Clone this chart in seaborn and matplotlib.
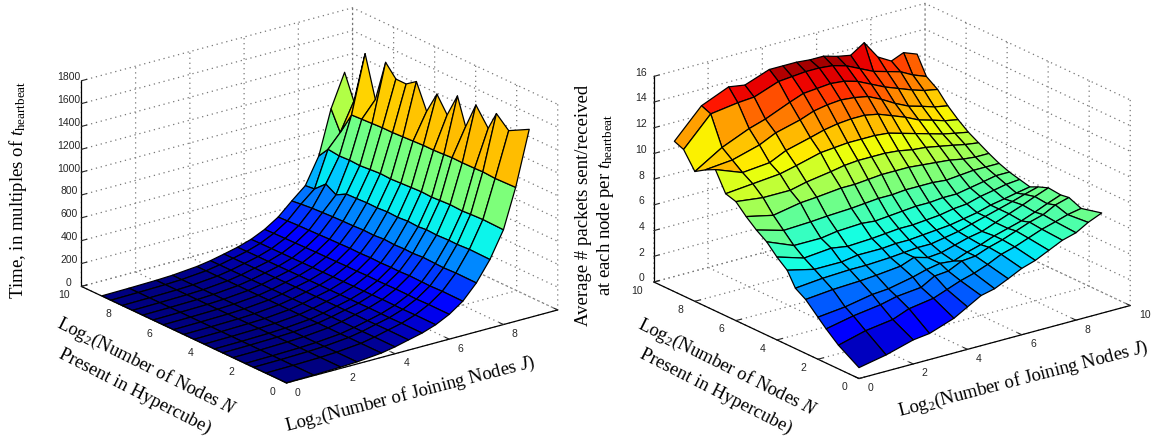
import numpy as np
import seaborn as sns
import matplotlib
matplotlib.use("Agg")
import matplotlib.pyplot as plt

# log2 of joining nodes / nodes present, same sampling in both plots
joining = [0, 1, 2, 2.6, 3.5, 4, 4.5, 5, 5.5, 6, 6.5, 7, 7.5, 8, 8.45, 8.95]
present = [0, 1, 1.6, 2, 2.6, 3.1, 3.5, 4, 4.5, 5, 5.5, 6, 6.5, 7, 7.5, 8, 8.55, 9]

# rows are present, columns are joining
join_time = [
    [2, 5, 11, 18, 38, 60, 89, 117, 158, 217, 300, 428, 601, 830, 1172, 1648],
    [2, 5, 11, 18, 38, 61, 90, 118, 159, 218, 302, 430, 605, 835, 1166, 1552],
    [2, 5, 11, 18, 38, 60, 89, 116, 157, 215, 298, 425, 598, 830, 1173, 1651],
    [2, 5, 11, 18, 37, 60, 88, 117, 158, 217, 300, 428, 600, 825, 1170, 1488],
    [2, 5, 11, 18, 38, 61, 90, 118, 159, 218, 303, 432, 595, 830, 1168, 1642],
    [2, 5, 11, 18, 38, 60, 88, 116, 157, 216, 298, 425, 600, 825, 1170, 1410],
    [2, 5, 11, 18, 37, 59, 88, 116, 156, 215, 300, 428, 592, 820, 1165, 1645],
    [2, 5, 11, 17, 37, 59, 87, 115, 156, 217, 297, 424, 598, 825, 1160, 1437],
    [2, 5, 11, 17, 37, 59, 87, 114, 155, 214, 300, 430, 590, 820, 1160, 1576],
    [2, 5, 10, 17, 37, 58, 86, 114, 154, 215, 296, 422, 595, 815, 1155, 1383],
    [2, 5, 10, 17, 37, 58, 86, 113, 153, 213, 298, 425, 588, 810, 1150, 1602],
    [2, 5, 10, 17, 36, 57, 85, 113, 152, 212, 295, 420, 590, 815, 1145, 1538],
    [2, 5, 10, 17, 36, 57, 84, 112, 151, 211, 293, 418, 585, 808, 1145, 1539],
    [2, 5, 10, 17, 36, 56, 83, 111, 150, 209, 290, 415, 582, 800, 1140, 1643],
    [2, 5, 10, 16, 36, 56, 83, 110, 149, 207, 287, 410, 533, 805, 1135, 1275],
    [2, 5, 10, 16, 35, 55, 82, 110, 148, 205, 285, 405, 585, 800, 1130, 1634],
    [2, 5, 10, 16, 35, 55, 81, 109, 147, 203, 280, 395, 496, 812, 930, 1171],
    [2, 5, 10, 16, 35, 54, 80, 108, 145, 200, 276, 385, 487, 716, 1100, 1387],
]

packets = [
    [0.85, 1.27, 1.87, 2.03, 2.7, 3.3, 3.9, 4.15, 4.64, 5.16, 5.5, 6.0, 6.5, 6.8, 7.35, 7.8],
    [1.84, 2.4, 2.7, 3.2, 3.5, 3.9, 4.3, 4.6, 5.0, 5.5, 5.8, 6.2, 6.6, 6.9, 7.2, 7.4],
    [2.66, 3.1, 3.4, 3.7, 3.9, 4.5, 4.6, 5.1, 5.2, 5.6, 5.9, 6.3, 6.7, 7.0, 7.5, 7.8],
    [3.27, 3.5, 3.9, 4.0, 4.4, 4.7, 4.9, 4.8, 5.2, 5.5, 5.9, 6.2, 6.5, 6.9, 7.3, 7.7],
    [4.2, 4.4, 4.5, 4.6, 4.8, 5.2, 4.9, 5.0, 5.3, 5.6, 5.8, 6.2, 6.6, 7.0, 7.4, 7.8],
    [4.7, 4.9, 5.0, 5.0, 5.1, 5.2, 5.3, 5.3, 5.5, 5.7, 6.0, 6.3, 6.6, 6.9, 7.2, 7.5],
    [5.8, 5.3, 5.3, 5.5, 5.5, 5.6, 5.6, 5.7, 5.8, 5.9, 6.1, 6.3, 6.6, 6.8, 7.0, 7.2],
    [6.45, 5.8, 6.0, 5.8, 5.9, 6.0, 6.1, 6.1, 6.2, 6.3, 6.5, 6.6, 6.9, 7.1, 7.3, 7.4],
    [7.26, 6.4, 6.4, 6.6, 6.7, 6.6, 6.7, 6.8, 6.9, 6.9, 7.0, 7.0, 7.2, 7.4, 7.6, 7.6],
    [7.8, 7.2, 7.3, 7.4, 7.5, 7.6, 7.7, 7.7, 7.8, 7.8, 7.8, 7.7, 7.8, 7.9, 7.9, 7.9],
    [8.47, 8.0, 8.4, 8.5, 8.7, 8.7, 8.8, 8.9, 8.9, 8.9, 8.8, 8.7, 8.6, 8.4, 8.3, 8.3],
    [9.26, 9.0, 9.0, 9.3, 9.6, 9.8, 9.9, 9.9, 9.9, 9.8, 9.6, 9.5, 9.3, 9.1, 8.9, 8.75],
    [9.5, 9.7, 9.9, 10.2, 10.7, 10.8, 10.9, 10.9, 10.9, 10.8, 10.5, 10.2, 9.9, 9.6, 9.4, 9.2],
    [11.0, 10.2, 10.4, 11.0, 11.5, 11.8, 12.0, 12.1, 12.1, 11.9, 11.5, 11.1, 10.6, 10.3, 10.0, 9.8],
    [10.6, 10.8, 11.4, 12.0, 12.5, 12.9, 13.1, 13.2, 13.1, 12.9, 12.4, 11.8, 11.3, 11.0, 10.7, 10.5],
    [10.1, 11.4, 12.3, 12.7, 13.5, 13.9, 14.0, 14.1, 14.0, 13.7, 13.2, 12.7, 12.3, 11.9, 11.6, 11.4],
    [11.4, 13.6, 13.9, 14.0, 14.7, 14.8, 14.9, 14.9, 14.8, 14.5, 14.0, 13.5, 13.2, 12.9, 12.4, 12.0],
    [11.7, 13.9, 14.8, 14.6, 15.3, 15.3, 15.3, 15.2, 15.2, 14.9, 14.7, 15.4, 14.0, 13.4, 13.8, 13.4],
]

xy_ticks = [0, 2, 4, 6, 8, 10]
time_ticks = list(range(0, 1801, 200))
packet_ticks = list(range(0, 17, 2))

sns.set_style("white")
plt.rcParams["font.family"] = ["Liberation Sans", "DejaVu Sans"]
plt.rcParams["mathtext.fontset"] = "custom"
plt.rcParams["mathtext.rm"] = "Liberation Serif"
plt.rcParams["mathtext.it"] = "Liberation Serif:italic"
plt.rcParams["grid.linestyle"] = (0, (1, 3))
plt.rcParams["grid.linewidth"] = 0.9
plt.rcParams["grid.color"] = "#777777"

jet = matplotlib.colormaps["jet"]
FW, FH = 1156, 436


def draw_surface(left, bottom, z_rows, zticks, zmax, hide_last_j):
    side = 513.4
    ax = fig.add_axes([left / FW, bottom / FH, side / FW, side / FH], projection="3d")
    ax.patch.set_alpha(0)
    ax.set_proj_type("ortho")
    ax.view_init(elev=20.85, azim=-127.1)
    ax.set_box_aspect((340, 340, 220))

    X, Y = np.meshgrid(joining, present)
    Z = np.array(z_rows, dtype=float)
    colors = jet(Z / Z.max())
    ax.plot_surface(X, Y, Z, facecolors=colors, edgecolor="black", linewidth=0.9,
                    shade=False, rcount=50, ccount=50, antialiased=True)

    ax.set_xlim(0, 10)
    ax.set_ylim(0, 10)
    ax.set_zlim(0, zmax)
    ax.set_xticks(xy_ticks)
    ax.set_yticks(xy_ticks)
    ax.set_zticks(zticks)
    if hide_last_j:
        ax.set_xticklabels(["0", "2", "4", "6", "8", ""])
    for axis in (ax.xaxis, ax.yaxis, ax.zaxis):
        axis.set_pane_color((1, 1, 1, 0))
        axis.pane.set_edgecolor((1, 1, 1, 0))
        axis.line.set_color("black")
        axis.line.set_linewidth(0.9)
        axis._axinfo["tick"]["inward_factor"] = 0.0
        axis._axinfo["tick"]["outward_factor"] = 0.25
        axis._axinfo["tick"]["linewidth"] = {True: 0.8, False: 0.5}
    ax.zaxis._axinfo["juggled"] = (0, 2, 1)
    ax.tick_params(axis="both", labelsize=7.5, colors="#262626", pad=0)
    ax.tick_params(axis="z", labelsize=7.5, colors="#262626", pad=-3)
    plt.setp(ax.get_xticklabels(), ha="left", va="baseline")
    plt.setp(ax.get_yticklabels(), ha="right", va="baseline")
    plt.setp(ax.get_zticklabels(), va="baseline")
    return ax


fig = plt.figure(figsize=(FW / 100, FH / 100), dpi=100)

draw_surface(55.9, -23, join_time, time_ticks, 1800, True)
draw_surface(628.4, -18.6, packets, packet_ticks, 16, False)

serif = {"family": "Liberation Serif", "fontsize": 13.5, "color": "black",
         "ha": "center", "va": "center", "rotation_mode": "anchor"}


def label(x, y, text, rotation):
    fig.text(x / FW, 1 - y / FH, text, rotation=rotation, **serif)


j_text = r"Log$_2$(Number of Joining Nodes $J$)"
n_text = r"Log$_2$(Number of Nodes $N$"

label(18, 190, r"Time, in multiples of $t_{\mathrm{heartbeat}}$", 90)
label(146, 367, n_text, -26.5)
label(135, 391, "Present in Hypercube)", -27)
label(410, 394, j_text, 14.5)

label(583, 205, "Average # packets sent/received", 90)
label(606, 205, r"at each node per $t_{\mathrm{heartbeat}}$", 90)
label(727, 368, n_text, -26.5)
label(716, 391, "Present in Hypercube)", -27)
label(1023, 379, j_text, 14.5)

fig.savefig("out.png", dpi=100)
